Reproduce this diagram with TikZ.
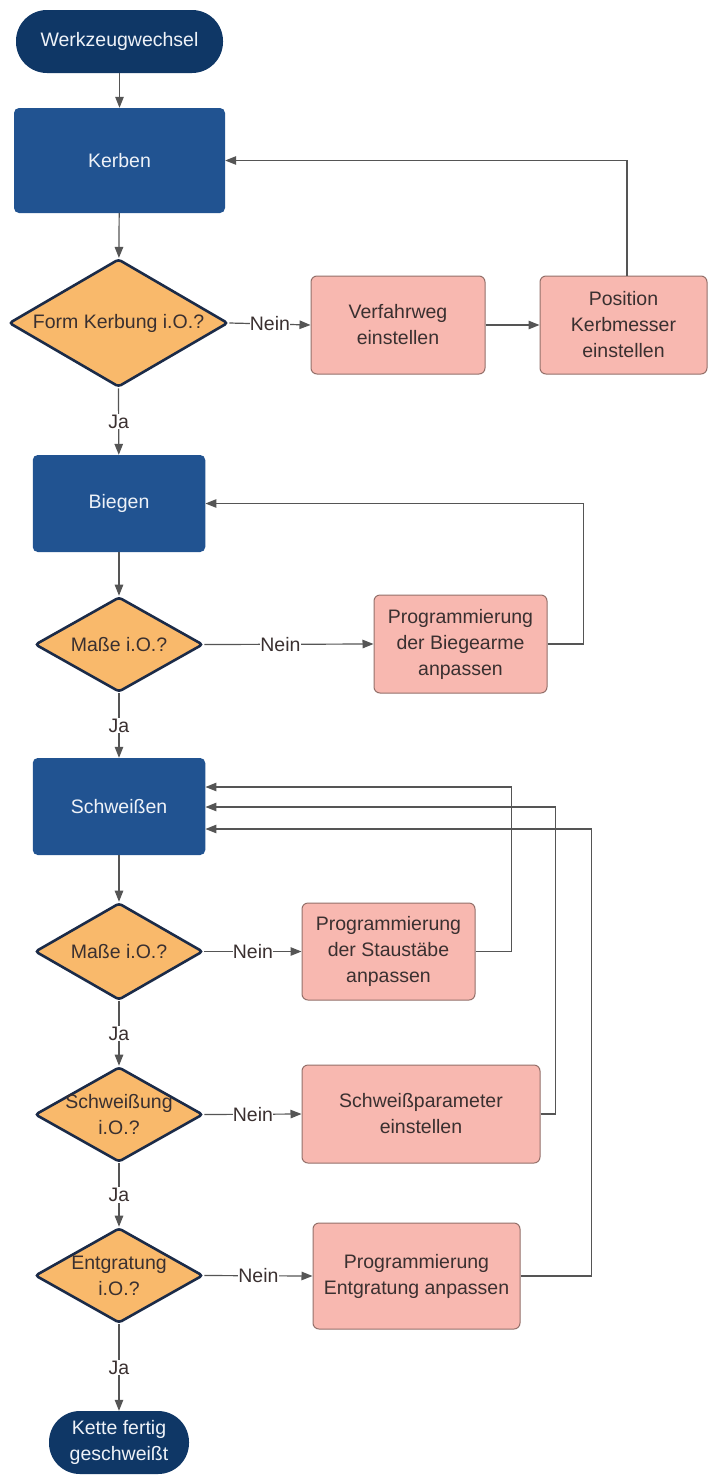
\documentclass[tikz,border=0pt]{standalone}
\usepackage{fontspec}
\setmainfont{Liberation Sans}
\usetikzlibrary{shapes.geometric,arrows.meta,calc}

\definecolor{termblue}{HTML}{0F3766}
\definecolor{procblue}{HTML}{215391}
\definecolor{decfill}{HTML}{F9B96B}
\definecolor{decline}{HTML}{1B2B48}
\definecolor{fixfill}{HTML}{F8B8B0}
\definecolor{fixline}{HTML}{94706A}
\definecolor{wire}{HTML}{555555}
\definecolor{ink}{HTML}{3A3030}
\definecolor{paleink}{HTML}{EEF2F8}

\begin{document}
\begin{tikzpicture}[x=1pt,y=-1pt,
  font=\fontsize{19.5}{26}\selectfont,
  terminal/.style={fill=termblue, text=paleink, rounded corners=31pt, align=center, inner sep=0pt, minimum height=63pt},
  process/.style={fill=procblue, text=paleink, rounded corners=5pt, inner sep=0pt},
  decision/.style={diamond, draw=decline, line width=2.6pt, fill=decfill, rounded corners=3pt, inner sep=0pt},
  fix/.style={draw=fixline, line width=1pt, fill=fixfill, text=ink, rounded corners=6pt, align=center, inner sep=0pt},
  flow/.style={draw=wire, line width=1.2pt, -{Triangle[length=11pt,width=8.5pt]}},
  edgelabel/.style={fill=white, text=ink, inner xsep=0.3pt, inner ysep=1pt},
  dtext/.style={text=ink, align=center}
]
\useasboundingbox (0,0) rectangle (708,1475);
\fill[white] (0,0) rectangle (708,1475);

% main column
\node[terminal, minimum width=207pt] (start) at (119.5,41.5) {Werkzeugwechsel};
\node[process, minimum width=211pt, minimum height=105pt] (kerben) at (119.5,160.5) {Kerben};
\node[decision, minimum width=219pt, minimum height=128pt,
      label={[dtext]center:{Form Kerbung i.O.?}}] (d1) at (118.5,323) {};
\node[process, minimum width=172.5pt, minimum height=97pt] (biegen) at (119,503.5) {Biegen};
\node[decision, minimum width=168pt, minimum height=95pt,
      label={[dtext]center:{Maße i.O.?}}] (d2) at (119,644.5) {};
\node[process, minimum width=172.5pt, minimum height=97pt] (schweissen) at (119,806.5) {Schweißen};
\node[decision, minimum width=168pt, minimum height=97pt,
      label={[dtext]center:{Maße i.O.?}}] (d3) at (119,951.5) {};
\node[decision, minimum width=168pt, minimum height=95pt,
      label={[dtext]center:{Schweißung\\i.O.?}}] (d4) at (119,1114.5) {};
\node[decision, minimum width=168pt, minimum height=95pt,
      label={[dtext]center:{Entgratung\\i.O.?}}] (d5) at (119,1275.5) {};
\node[terminal, minimum width=140pt] (ende) at (119,1442.5) {Kette fertig\\geschweißt};

% correction steps
\node[fix, minimum width=174pt, minimum height=98pt] (verfahr) at (398,325) {Verfahrweg\\einstellen};
\node[fix, minimum width=167pt, minimum height=98pt] (kerbpos) at (623.5,325) {Position\\Kerbmesser\\einstellen};
\node[fix, minimum width=173pt, minimum height=98pt] (biegearme) at (460.5,644) {Programmierung\\der Biegearme\\anpassen};
\node[fix, minimum width=173pt, minimum height=97pt] (staustaebe) at (388.5,951.5) {Programmierung\\der Staustäbe\\anpassen};
\node[fix, minimum width=238pt, minimum height=98pt] (schweisspar) at (421,1114) {Schweißparameter\\einstellen};
\node[fix, minimum width=207pt, minimum height=106pt] (entgrat) at (416.5,1276) {Programmierung\\Entgratung anpassen};

% feedback entry points on the welding step
\coordinate (sw1) at ($(schweissen.east)+(0,-19.5)$);
\coordinate (sw2) at ($(schweissen.east)+(0,0.5)$);
\coordinate (sw3) at ($(schweissen.east)+(0,22.5)$);

% main flow
\draw[flow] (start) -- (kerben);
\draw[flow] (kerben) -- (d1);
\draw[flow] (d1.south) -- node[edgelabel]{Ja} (biegen);
\draw[flow] (biegen) -- (d2);
\draw[flow] (d2.south) -- node[edgelabel]{Ja} (schweissen);
\draw[flow] (schweissen) -- (d3);
\draw[flow] (d3.south) -- node[edgelabel]{Ja} (d4.north);
\draw[flow] (d4.south) -- node[edgelabel]{Ja} (d5.north);
\draw[flow] (d5.south) -- node[edgelabel]{Ja} (ende);

% "Nein" branches
\draw[flow] (d1.east) -- node[edgelabel]{Nein} (verfahr.west);
\draw[flow] (verfahr) -- (kerbpos);
\draw[flow] (d2.east) -- node[edgelabel, pos=0.45]{Nein} (biegearme.west);
\draw[flow] (d3.east) -- node[edgelabel]{Nein} (staustaebe.west);
\draw[flow] (d4.east) -- node[edgelabel]{Nein} (schweisspar.west);
\draw[flow] (d5.east) -- node[edgelabel]{Nein} (entgrat.west);

% loops back
\draw[flow] ($(kerbpos.north)+(3.5,0)$) |- (kerben.east);
\draw[flow] (biegearme.east) -- ++(36,0) |- (biegen.east);
\draw[flow] (staustaebe.east) -- ++(36,0) |- (sw1);
\draw[flow] (schweisspar.east) -- ++(15,0) |- (sw2);
\draw[flow] (entgrat.east) -- ++(71,0) |- (sw3);
\end{tikzpicture}
\end{document}
